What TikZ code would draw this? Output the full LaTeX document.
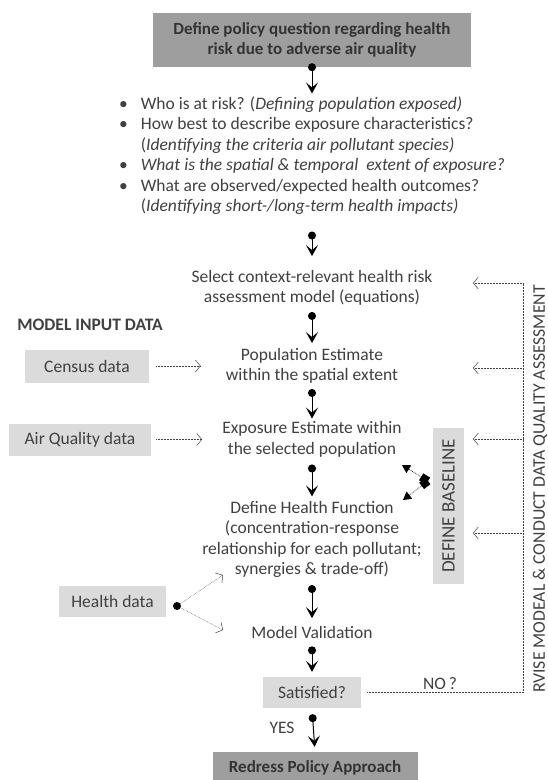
\documentclass[tikz,border=0pt]{standalone}
\usepackage{fontspec}
\setmainfont{Carlito}
\usetikzlibrary{positioning, arrows.meta}

\definecolor{boxdark}{gray}{0.62}
\definecolor{boxlight}{gray}{0.86}
\definecolor{inkgray}{gray}{0.25}
\newcommand{\flowfont}{\fontsize{17.5}{20.5}\selectfont}
\newcommand{\keyfont}{\fontsize{17}{20.5}\selectfont\bfseries}
\newcommand{\sidefont}{\fontsize{17.7}{20}\selectfont}

\begin{document}
\begin{tikzpicture}[
    x=1pt, y=-1pt,
    on grid,
    every node/.style={text=inkgray, font=\flowfont},
    stage/.style={align=center, inner sep=0pt},
    keybox/.style={fill=boxdark, align=center, inner sep=0pt, minimum height=54pt, font=\keyfont, text=black!80},
    inbox/.style={fill=boxlight, inner sep=0pt},
    dot/.style={circle, fill=black, inner sep=0pt, minimum size=8pt},
    flow/.style={{Circle[length=8pt]}-{Stealth[length=11pt, width=12pt, inset=5pt]}, line width=1pt, shorten <=6pt, shorten >=5pt},
    feed/.style={-{Straight Barb[length=5pt, width=12pt]}, densely dotted, line width=0.5pt, draw=black!75},
    recheck/.style={densely dotted, line width=0.5pt, draw=black!75},
    baseline arrow/.style={{Square[length=8pt, width=8pt]}-{Triangle[length=8pt, width=9pt]}, densely dotted, line width=0.7pt}
]
\useasboundingbox (0,0) rectangle (548,780);

% Main flow
\node (policy) [keybox, minimum width=318pt] at (312,40) {Define policy question regarding health\\risk due to adverse air quality};

\node (questions) [below=116.5pt of policy] {%
  \begin{tabular}{@{}c@{\hspace{13pt}}l@{}}
  \textbullet & Who is at risk? (\textit{Defining population exposed)}\\
  \textbullet & How best to describe exposure characteristics?\\
              & (\textit{Identifying the criteria air pollutant species)}\\
  \textbullet & \textit{What is the spatial \& temporal~ extent of exposure?}\\
  \textbullet & What are observed/expected health outcomes?\\
              & (\textit{Identifying short-/long-term health impacts)}
  \end{tabular}};

\node (select) [stage, below=131.5pt of questions] {Select context-relevant health risk\\assessment model (equations)};
\node (popest) [stage, below=78pt of select] {Population Estimate\\within the spatial extent};
\node (expest) [stage, below=73.5pt of popest] {Exposure Estimate within\\the selected population};
\node (healthfn) [stage, below=100pt of expest] {Define Health Function\\(concentration-response\\relationship for each pollutant;\\synergies \& trade-off)};
\node (validation) [stage, below=92.5pt of healthfn] {Model Validation};
\node (satisfied) [inbox, minimum width=98pt, minimum height=31pt, below=60.5pt of validation] {Satisfied?};
\node (redress) [keybox, minimum width=205pt, minimum height=32pt, below=75.5pt of satisfied, xshift=3pt] {Redress Policy Approach};

% Model input data
\node (census) [inbox, minimum width=124pt, minimum height=33pt, left=225pt of popest] {Census data};
\node (inputs) [above=41.5pt of census, xshift=3pt, font=\flowfont\bfseries] {MODEL INPUT DATA};
\node (airq) [inbox, minimum width=142pt, minimum height=32pt, left=232pt of expest] {Air Quality data};
\node (health) [inbox, minimum width=107pt, minimum height=31pt, below left=62pt and 199.5pt of healthfn] {Health data};
\node (hdot) [dot, right=64.5pt of health, yshift=-4.5pt] {};

% Side boxes
\node (baseline) [inbox, rotate=90, minimum width=156pt, minimum height=31pt, font=\fontsize{19}{20}\selectfont, above right=33.5pt and 136.5pt of healthfn] {DEFINE BASELINE};
\node (quality) [rotate=90, font=\sidefont] at (540,489) {RVISE MODEAL \& CONDUCT DATA QUALITY ASSESSMENT};
\node (nolabel) at (440,684) {NO\,?};
\node (yeslabel) at (282,728) {YES};

% Arrows
\draw [flow, shorten <=-4pt, shorten >=-2pt] (policy.south) -- (questions.north);
\draw [flow, shorten <=10pt, shorten >=14pt] (questions.south) -- (select.north);
\draw [flow] (select.south) -- (popest.north);
\draw [flow, shorten <=5pt, shorten >=3pt] (popest.south) -- (expest.north);
\draw [flow, shorten <=7pt, shorten >=4.5pt] (expest.south) -- (healthfn.north);
\draw [flow, shorten <=7pt, shorten >=7.5pt] (healthfn.south) -- (validation.north);
\draw [flow, shorten <=8pt] (validation.south) -- (satisfied.north);
\draw [flow] (satisfied.south) -- (redress.north);

\draw [feed, shorten <=7pt, shorten >=25pt] (census.east) -- (census.east -| popest.west);
\draw [feed, shorten <=5pt, shorten >=20pt] (airq.east) -- (airq.east -| expest.west);

\coordinate (hfIn) at (223,575);
\coordinate (mvIn) at (223,630);
\draw [feed] (hdot) -- (hfIn);
\draw [feed] (hdot) -- (mvIn);

% Define baseline links
\coordinate (blob) at (428,481);
\coordinate (blobExp) at (402,465);
\coordinate (blobHealth) at (403,500);
\draw [baseline arrow] (blob) -- (blobExp);
\draw [baseline arrow] (blob) -- (blobHealth);

% Revise loop
\coordinate (loopcorner) at (523,692.5);
\coordinate (chkSelect) at (473,283);
\coordinate (chkPop) at (473,368);
\coordinate (chkExp) at (473,439);
\coordinate (chkHealth) at (473,533);
\draw [recheck, shorten <=6pt] (satisfied.east) -- (loopcorner) -- (loopcorner |- chkSelect);
\foreach \tip in {chkSelect, chkPop, chkExp, chkHealth}
    \draw [feed] (loopcorner |- \tip) -- (\tip);

\end{tikzpicture}
\end{document}
